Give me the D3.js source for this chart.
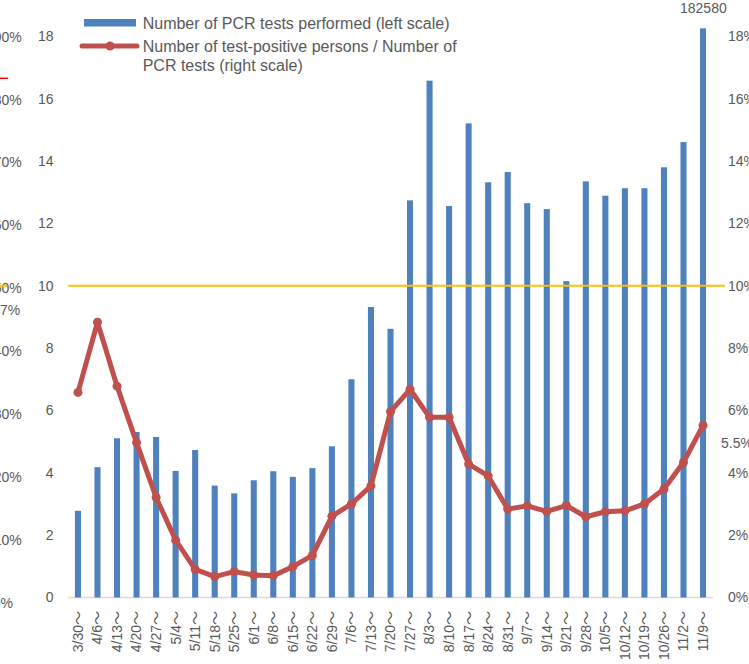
<!DOCTYPE html>
<html>
<head>
<meta charset="utf-8">
<script src="https://cdn.jsdelivr.net/npm/d3@7"></script>
<style>
  body { margin: 0; background: #fff; }
  svg { display: block; font-family: "Liberation Sans", Arial, "Noto Sans CJK JP", sans-serif; }
</style>
</head>
<body>
<script>
// DATA
var weeks = ["3/30", "4/6", "4/13", "4/20", "4/27", "5/4", "5/11", "5/18", "5/25", "6/1", "6/8",
    "6/15", "6/22", "6/29", "7/6", "7/13", "7/20", "7/27", "8/3", "8/10", "8/17", "8/24", "8/31",
    "9/7", "9/14", "9/21", "9/28", "10/5", "10/12", "10/19", "10/26", "11/2", "11/9"];

// number of PCR tests performed per week
var tests = [27800, 41800, 51100, 53100, 51500, 40600, 47300, 35900, 33400, 37600, 40500,
    38700, 41500, 48500, 70000, 93200, 86200, 127400, 165800, 125600, 152100, 133200, 136500,
    126500, 124600, 101500, 133500, 128900, 131300, 131300, 138000, 146100, 182580];

// positive persons / PCR tests (%)
var positivity = [6.58, 8.83, 6.78, 4.97, 3.21, 1.84, 0.90, 0.67, 0.83, 0.72, 0.70,
    0.99, 1.35, 2.61, 3.0, 3.58, 5.96, 6.68, 5.78, 5.78, 4.28, 3.9, 2.84,
    2.94, 2.76, 2.95, 2.59, 2.75, 2.78, 3.0, 3.48, 4.34, 5.52];

var leftTicks = [0, 2, 4, 6, 8, 10, 12, 14, 16, 18];          // x 10,000 tests
var rightTicks = [0, 2, 4, 6, 8, 10, 12, 14, 16, 18];         // %
var cutTicks = [0, 10, 20, 30, 40, 50, 60, 70, 80, 90];       // axis of the neighbouring chart, cut off

var svg = d3.select("body").append("svg")
    .attr("width", 749)
    .attr("height", 664);

const margin = {top: 36.4, left: 68.2, right: 36.2, bottom: 66.5};
const width = 749 - margin.left - margin.right;
const baseY = 664 - margin.bottom;

// scales
const x = d3.scaleBand()
    .domain(weeks)
    .range([margin.left, margin.left + width])
    .paddingInner(0.69)
    .paddingOuter(0.345);

const yLeft = d3.scaleLinear().domain([0, 18]).range([baseY, margin.top]);
const yRight = d3.scaleLinear().domain([0, 18]).range([baseY, margin.top]);
const yCut = d3.scaleLinear().domain([0, 90]).range([603, 36.7]);

const grey = "#595959";
const cx = d => x(d) + x.bandwidth() / 2;

// bits of the chart next door that stick in at the left edge
svg.append("g").selectAll("text").data(cutTicks).enter().append("text")
    .attr("x", d => d === 0 ? 13 : 21.7)
    .attr("y", d => yCut(d))
    .attr("dy", "0.35em")
    .attr("text-anchor", "end")
    .attr("font-size", 14)
    .attr("fill", grey)
    .text(d => d + "%");
svg.append("text").attr("x", 0).attr("y", 310).attr("dy", "0.35em")
    .attr("font-size", 14).attr("fill", grey).text("7%");
svg.append("line").attr("x1", 0).attr("x2", 8).attr("y1", 78.3).attr("y2", 78.3)
    .attr("stroke", "#FF0000").attr("stroke-width", 1.5);
svg.append("line").attr("x1", 0).attr("x2", 7).attr("y1", yLeft(10)).attr("y2", yLeft(10))
    .attr("stroke", "#FFC000").attr("stroke-width", 2);

// left axis labels
svg.append("g").selectAll("text").data(leftTicks).enter().append("text")
    .attr("x", 53.5)
    .attr("y", d => yLeft(d))
    .attr("dy", "0.35em")
    .attr("text-anchor", "end")
    .attr("font-size", 14)
    .attr("fill", grey)
    .text(d => d);

// right axis labels
svg.append("g").selectAll("text").data(rightTicks).enter().append("text")
    .attr("x", 728)
    .attr("y", d => yRight(d))
    .attr("dy", "0.35em")
    .attr("font-size", 14)
    .attr("fill", grey)
    .text(d => d + "%");

// baseline
svg.append("line")
    .attr("x1", margin.left).attr("x2", margin.left + width)
    .attr("y1", baseY).attr("y2", baseY)
    .attr("stroke", "#D9D9D9").attr("stroke-width", 1.5);

// x labels, rotated
svg.append("g").selectAll("text").data(weeks).enter().append("text")
    .attr("transform", d => "translate(" + cx(d) + ",611) rotate(-90)")
    .attr("dy", "0.35em")
    .attr("text-anchor", "end")
    .attr("font-size", 14)
    .attr("fill", grey)
    .text(d => d + "～");

// bars
svg.append("g").selectAll("rect").data(weeks).enter().append("rect")
    .attr("x", d => x(d))
    .attr("y", (d, i) => yLeft(tests[i] / 10000))
    .attr("width", x.bandwidth())
    .attr("height", (d, i) => baseY - yLeft(tests[i] / 10000))
    .attr("fill", "#4F81BD");

// 10 line
svg.append("line")
    .attr("x1", margin.left).attr("x2", 725)
    .attr("y1", yLeft(10)).attr("y2", yLeft(10))
    .attr("stroke", "#FFC000").attr("stroke-width", 2);

// positivity line
const line = d3.line()
    .x((d, i) => cx(weeks[i]))
    .y(d => yRight(d));

svg.append("path")
    .datum(positivity)
    .attr("d", line)
    .attr("fill", "none")
    .attr("stroke", "#C0504D")
    .attr("stroke-width", 5)
    .attr("stroke-linejoin", "round");

svg.append("g").selectAll("circle").data(positivity).enter().append("circle")
    .attr("cx", (d, i) => cx(weeks[i]))
    .attr("cy", d => yRight(d))
    .attr("r", 4.5)
    .attr("fill", "#C0504D");

// value labels
svg.append("text").attr("x", 680).attr("y", 8.3).attr("dy", "0.35em")
    .attr("font-size", 14).attr("fill", grey).text(tests[tests.length - 1]);
svg.append("text").attr("x", 721).attr("y", 443).attr("dy", "0.35em")
    .attr("font-size", 14).attr("fill", grey).text(positivity[positivity.length - 1].toFixed(1) + "%");

// legend
const lg = svg.append("g").attr("font-size", 16).attr("fill", grey);
lg.append("rect").attr("x", 84).attr("y", 19).attr("width", 52).attr("height", 7.5).attr("fill", "#4F81BD");
lg.append("text").attr("x", 142.7).attr("y", 29.3).text("Number of PCR tests performed (left scale)");
lg.append("line").attr("x1", 82).attr("x2", 137).attr("y1", 46).attr("y2", 46)
    .attr("stroke", "#C0504D").attr("stroke-width", 5).attr("stroke-linecap", "round");
lg.append("circle").attr("cx", 110).attr("cy", 46).attr("r", 4.5).attr("fill", "#C0504D");
lg.append("text").attr("x", 142.7).attr("y", 51.6).text("Number of test-positive persons / Number of");
lg.append("text").attr("x", 142.7).attr("y", 71).text("PCR tests (right scale)");
</script>
</body>
</html>
